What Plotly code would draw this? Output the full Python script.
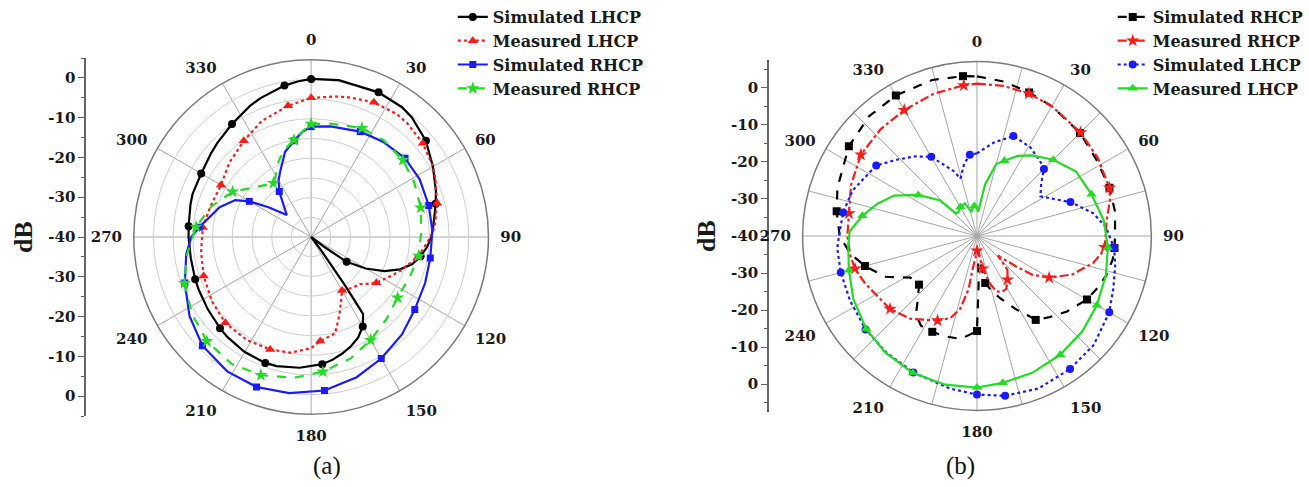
import plotly.graph_objects as go

W, H = 1309, 487
FONT = "DejaVu Serif"
FONT_T = "Liberation Serif"

# ---------------- data : panel (a) ----------------
a_sim_lhcp_theta = [0, 10, 25, 35, 40, 50, 60, 70, 75, 80, 85, 90, 95, 100, 105, 110, 115, 120, 125, 127, 130, 140, 143, 145, 146, 150, 155, 160, 165, 170, 175, 185, 195, 200, 210, 220, 225, 235, 245, 250, 260, 270, 275, 285, 290, 300, 310, 315, 325, 335, 340, 350, 355, 360]
a_sim_lhcp_db = [0.1, 0.4, 0.5, 0.2, -0.3, -2.0, -4.3, -6.3, -7.3, -8.2, -8.9, -9.5, -10.5, -11.8, -13.4, -16.0, -19.5, -24.0, -29.0, -36.0, -40.0, -40.0, -36.0, -25.0, -16.4, -13.8, -11.8, -10.5, -9.4, -8.4, -7.6, -6.7, -6.1, -6.0, -6.3, -6.9, -7.3, -8.0, -8.5, -8.7, -9.0, -8.9, -8.8, -8.3, -8.0, -7.8, -6.9, -6.3, -5.0, -3.3, -2.5, -1.0, -0.4, 0.1]

a_meas_lhcp_theta = [0, 10, 15, 25, 35, 40, 50, 60, 65, 75, 85, 90, 100, 110, 118, 125, 130, 134, 140, 150, 155, 160, 166, 175, 180, 190, 200, 212, 225, 237, 250, 262, 275, 287, 300, 312, 325, 337, 350, 360]
a_meas_lhcp_db = [-4.7, -3.8, -3.3, -2.3, -2.0, -2.2, -3.0, -4.3, -5.2, -6.9, -8.5, -9.7, -12.3, -15.5, -18.0, -19.8, -21.5, -22.8, -23.3, -24.3, -22.0, -19.0, -14.8, -13.5, -11.8, -10.2, -9.6, -9.2, -9.2, -10.0, -11.0, -11.8, -12.4, -13.3, -13.6, -12.0, -10.2, -8.0, -6.2, -4.7]

a_sim_rhcp_theta = [0, 10, 25, 37, 50, 62, 75, 87, 100, 112, 125, 137, 150, 162, 175, 188, 200, 212, 225, 237, 250, 262, 270, 275, 288, 296, 300, 305, 312, 325, 330, 335, 343, 350, 355, 360]
a_sim_rhcp_db = [-12.0, -11.5, -10.5, -9.7, -8.9, -8.8, -9.1, -9.2, -9.3, -8.8, -7.9, -6.2, -4.4, -2.6, -0.9, 0.0, 0.5, 0.2, -1.0, -3.2, -5.9, -8.0, -9.6, -11.5, -15.6, -18.6, -21.9, -26.8, -31.7, -25.9, -23.5, -21.5, -17.4, -15.2, -13.3, -12.0]

a_meas_rhcp_theta = [0, 10, 25, 37, 50, 62, 75, 87, 100, 112, 125, 137, 150, 162, 175, 187, 200, 212, 225, 237, 250, 262, 275, 287, 300, 309, 318, 325, 330, 337, 343, 350, 355, 360]
a_meas_rhcp_db = [-11.3, -10.8, -9.5, -9.3, -9.6, -10.4, -11.2, -12.0, -12.3, -13.0, -13.2, -11.8, -9.8, -7.6, -5.7, -4.0, -2.7, -2.0, -2.6, -4.0, -5.8, -8.2, -10.7, -13.5, -17.0, -20.3, -22.3, -23.3, -22.0, -19.0, -16.8, -15.0, -13.2, -11.3]

# ---------------- data : panel (b) ----------------
b_sim_rhcp_theta = [0, 10, 20, 30, 45, 58, 70, 80, 90, 95, 100, 107, 113, 120, 130, 138, 145, 147, 152, 160, 166, 170, 173, 176, 178, 180, 189, 198, 205, 212, 218, 223, 230, 238, 246, 255, 262, 270, 280, 289, 305, 318, 330, 344, 355, 360]
b_sim_rhcp_db = [3.5, 2.7, 1.6, 0.8, -0.3, -1.4, -1.6, -1.8, -2.4, -2.4, -2.5, -3.2, -4.2, -5.4, -8.0, -10.3, -12.1, -14.0, -17.4, -22.1, -25.1, -27.0, -33.0, -36.0, -27.0, -14.1, -11.6, -11.3, -11.2, -11.2, -13.0, -16.4, -19.4, -18.6, -12.7, -8.4, -5.2, -2.6, -1.2, 0.2, 2.6, 3.9, 4.2, 4.2, 3.7, 3.5]

b_meas_rhcp_theta = [0, 10, 20, 30, 45, 57, 70, 75, 83, 89, 95, 98, 103, 112, 120, 125, 128, 133, 138, 145, 151, 156, 161, 165, 170, 175, 180, 184, 187, 189, 193, 198, 205, 219, 230, 247, 255, 261, 270, 280, 292, 305, 318, 330, 343, 355, 360]
b_meas_rhcp_db = [1.5, 1.5, 1.3, 0.8, -0.1, -0.8, -1.6, -2.5, -4.4, -4.9, -5.1, -5.8, -7.5, -12.0, -17.3, -21.6, -26.6, -32.2, -27.6, -25.5, -23.5, -23.3, -24.1, -26.8, -31.0, -35.5, -36.0, -34.0, -31.6, -25.3, -19.6, -16.5, -14.6, -11.0, -9.1, -6.9, -5.6, -5.1, -4.7, -4.6, -3.0, -1.4, -0.8, -0.4, 0.5, 1.2, 1.5]

b_sim_lhcp_theta = [0, 10, 20, 31, 40, 45, 51, 58, 65, 70, 79, 86, 95, 102, 111, 120, 133, 145, 158, 170, 180, 190, 205, 218, 230, 243, 255, 265, 270, 280, 290, 305, 314, 322, 330, 340, 344, 350, 355, 360]
b_sim_lhcp_db = [-17.5, -14.2, -11.0, -11.8, -13.3, -14.2, -17.5, -19.6, -16.4, -12.9, -7.7, -4.8, -2.5, -1.5, -0.2, 1.6, 3.5, 4.2, 4.8, 4.2, 3.2, 2.2, 1.0, 0.2, -0.4, -1.2, -1.6, -1.8, -2.4, -3.0, -3.9, -6.5, -10.0, -12.5, -15.1, -21.1, -23.7, -20.0, -17.8, -17.5]

b_meas_lhcp_theta = [0, 3, 9, 15, 20, 27, 34, 45, 57, 70, 83, 95, 107, 120, 132, 145, 158, 170, 180, 192, 205, 218, 230, 243, 255, 265, 272, 280, 288, 296, 305, 314, 317, 322, 330, 340, 347, 353, 355, 360]
b_meas_lhcp_db = [-32.5, -33.4, -25.7, -19.7, -18.2, -15.5, -13.5, -10.6, -7.8, -6.8, -5.2, -4.2, -3.3, -2.3, -1.3, -0.5, 0.2, 0.6, 1.3, 1.4, 1.2, 0.4, -0.6, -2.2, -3.9, -4.8, -5.3, -8.3, -11.5, -14.9, -20.5, -26.1, -31.5, -31.8, -30.9, -30.5, -33.3, -31.6, -31.8, -32.5]

# tick labels
angle_ticks_a = list(range(0, 360, 30))
angle_ticks_b = list(range(0, 360, 15))
db_ticks = [0, -10, -20, -30, -40]

# marker positions along the curves
marker_angles_a = list(range(0, 360, 25))
marker_angles_b = [20, 45, 70, 95, 120, 145, 170, 180, 205, 230, 255, 280, 305, 330, 355]

# ---------------- geometry (pixels) ----------------
A_CX, A_CY, A_R = 314, 237, 179
B_CX, B_CY, B_R = 986, 236, 176
A_RMAX, B_RMAX = 5, 7.5
R_MIN = -40


def dom(cx, cy, r):
    return dict(x=[(cx - r) / W, (cx + r) / W], y=[(H - cy - r) / H, (H - cy + r) / H])


def pick(theta, r, angles):
    th = [t for t in theta if t in angles]
    rr = [v for t, v in zip(theta, r) if t in angles]
    return th, rr


fig = go.Figure()

series_a = [
    ("Simulated LHCP", a_sim_lhcp_theta, a_sim_lhcp_db, "#000000", "solid", "circle", 8),
    ("Measured LHCP", a_meas_lhcp_theta, a_meas_lhcp_db, "#ff1a1a", "dot", "triangle-up", 9),
    ("Simulated RHCP", a_sim_rhcp_theta, a_sim_rhcp_db, "#1a1aff", "solid", "square", 7),
    ("Measured RHCP", a_meas_rhcp_theta, a_meas_rhcp_db, "#22dd22", "dash", "star", 10),
]
series_b = [
    ("Simulated RHCP", b_sim_rhcp_theta, b_sim_rhcp_db, "#000000", "dash", "square", 8),
    ("Measured RHCP", b_meas_rhcp_theta, b_meas_rhcp_db, "#ff1a1a", "dashdot", "star", 10),
    ("Simulated LHCP", b_sim_lhcp_theta, b_sim_lhcp_db, "#1a1aff", "dot", "circle", 8),
    ("Measured LHCP", b_meas_lhcp_theta, b_meas_lhcp_db, "#22dd22", "solid", "triangle-up", 9),
]

for subplot, legend, series, mk_angles in [("polar", "legend", series_a, marker_angles_a),
                                           ("polar2", "legend2", series_b, marker_angles_b)]:
    for name, th, rr, col, dash, sym, ms in series:
        fig.add_trace(go.Scatterpolar(
            r=rr, theta=th, mode="lines", subplot=subplot, showlegend=False,
            line=dict(color=col, width=2.2, dash=dash), hoverinfo="skip"))
        mt, mr = pick(th, rr, mk_angles)
        fig.add_trace(go.Scatterpolar(
            r=mr, theta=mt, mode="markers", subplot=subplot, showlegend=False,
            marker=dict(color=col, symbol=sym, size=ms, line=dict(width=0)), hoverinfo="skip"))
        # legend entry
        fig.add_trace(go.Scatterpolar(
            r=[None], theta=[None], mode="lines+markers", subplot=subplot, name=name,
            legend=legend, line=dict(color=col, width=2.2, dash=dash),
            marker=dict(color=col, symbol=sym, size=ms, line=dict(width=0))))

# carriers for the left-hand dB axes
fig.add_trace(go.Scatter(x=[None], y=[None], xaxis="x", yaxis="y", showlegend=False, hoverinfo="skip"))
fig.add_trace(go.Scatter(x=[None], y=[None], xaxis="x2", yaxis="y2", showlegend=False, hoverinfo="skip"))

tickfont = dict(family=FONT, size=15, color="#1a1a1a", weight="bold")


def polar_layout(cx, cy, r, rmax, ticks, labelled_step, radial_grid):
    return dict(
        domain=dom(cx, cy, r),
        bgcolor="white",
        angularaxis=dict(
            direction="clockwise", rotation=90, tickmode="array",
            tickvals=ticks,
            ticktext=[str(t) if t % labelled_step == 0 else "" for t in ticks],
            ticks="outside", ticklen=8, tickcolor="rgba(0,0,0,0)",
            tickfont=tickfont, showline=True, linecolor="#7a7a7a", linewidth=1.5,
            gridcolor="#a8a8a8", gridwidth=1),
        radialaxis=dict(
            range=[R_MIN, rmax], tick0=R_MIN, dtick=5, showticklabels=False, ticks="",
            showline=False, showgrid=radial_grid, gridcolor="#cfcfcf", gridwidth=1),
    )


def db_axis(cy, r, rmax):
    half = rmax - R_MIN
    vals = [d - R_MIN for d in db_ticks] + [-(d - R_MIN) for d in db_ticks if d != R_MIN]
    text = [str(d) for d in db_ticks] + [str(d) for d in db_ticks if d != R_MIN]
    return dict(
        domain=[(H - cy - r) / H, (H - cy + r) / H], range=[-half, half],
        tickmode="array", tickvals=vals, ticktext=text,
        ticks="outside", ticklen=6, tickwidth=1.2, tickcolor="#666",
        minor=dict(tick0=0, dtick=5, ticks="outside", ticklen=3, tickcolor="#666"),
        showline=True, linecolor="#666", linewidth=1.5, showgrid=False, zeroline=False,
        tickfont=tickfont, side="left",
        title=dict(text="dB", font=dict(family=FONT_T, size=26, color="#1a1a1a", weight="bold"), standoff=8),
    )


legend_common = dict(xanchor="left", yanchor="top", bgcolor="rgba(0,0,0,0)",
                     font=dict(family=FONT, size=16, color="#1a1a1a", weight="bold"),
                     tracegroupgap=0, itemclick=False)

fig.update_layout(
    width=W, height=H, margin=dict(l=0, r=0, t=0, b=0),
    paper_bgcolor="white", plot_bgcolor="white",
    polar=polar_layout(A_CX, A_CY, A_R, A_RMAX, angle_ticks_a, 30, True),
    polar2=polar_layout(B_CX, B_CY, B_R, B_RMAX, angle_ticks_b, 30, False),
    xaxis=dict(domain=[87 / W, 89 / W], visible=False, range=[0, 1]),
    xaxis2=dict(domain=[776 / W, 778 / W], visible=False, range=[0, 1]),
    yaxis=dict(anchor="x", **db_axis(A_CY, A_R, A_RMAX)),
    yaxis2=dict(anchor="x2", **db_axis(B_CY, B_R, B_RMAX)),
    legend=dict(x=457 / W, y=1.0, **legend_common),
    legend2=dict(x=1123 / W, y=1.0, **legend_common),
    annotations=[
        dict(text="(a)", x=A_CX / W, y=(H - 466) / H, xref="paper", yref="paper",
             yanchor="middle", showarrow=False, font=dict(family=FONT_T, size=25, color="#111")),
        dict(text="(b)", x=B_CX / W, y=(H - 466) / H, xref="paper", yref="paper",
             yanchor="middle", showarrow=False, font=dict(family=FONT_T, size=25, color="#111")),
    ],
    showlegend=True,
)

fig.write_html("out.html", config={"displayModeBar": False},
               post_script="document.body.style.margin='0px';")
